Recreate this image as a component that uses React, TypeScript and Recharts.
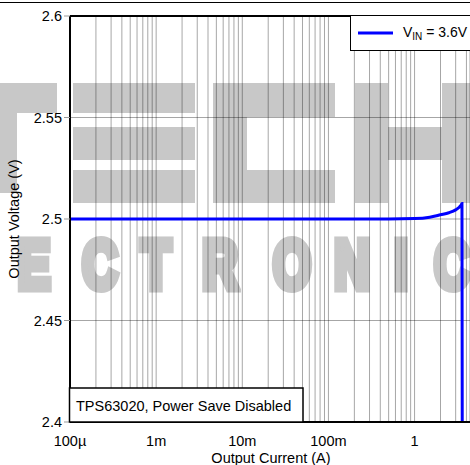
import { LineChart, Line, XAxis, YAxis, CartesianGrid, ReferenceLine, Legend } from "recharts";

// ─── Data
const currents = [0.0001, 0.001, 0.01, 0.1, 0.5, 1, 1.5, 2, 2.5, 3, 3.3, 3.45, 3.55, 3.6];
const voltages = [2.5, 2.5, 2.5, 2.5, 2.5, 2.5002, 2.5009, 2.5021, 2.5031, 2.5045, 2.5058, 2.5067, 2.5076, 2.3];

const decades = [0.0001, 0.001, 0.01, 0.1, 1];
const decadeLabels = ["100µ", "1m", "10m", "100m", "1"];
const yTicks = [2.4, 2.45, 2.5, 2.55, 2.6];
const seriesName = "VIN = 3.6V";
const noteText = "TPS63020, Power Save Disabled";

const xMin = 0.0001;
const xMax = 4.4;
const FONT = "'Liberation Sans', Arial, sans-serif";
const FS = 14.5;
const WM = "#c8c8c8";

const data = currents.map((c, i) => ({ current: c, vout: voltages[i] }));

// log grid: 1..9 of every decade
const xGridTicks = decades
  .flatMap((d) => [1, 2, 3, 4, 5, 6, 7, 8, 9].map((m) => m * d))
  .filter((v) => v <= xMax);

const fmtX = (v: number) => {
  const i = decades.findIndex((d) => Math.abs(v / d - 1) < 1e-9);
  return i >= 0 ? decadeLabels[i] : "";
};

// ─── Legend box
const LegendBox = () => (
  <div
    style={{
      boxSizing: "border-box",
      width: 120,
      height: 36,
      background: "#fff",
      border: "1.5px solid #000",
      borderRight: "none",
      display: "flex",
      alignItems: "center",
      fontFamily: FONT,
      fontSize: 14,
      color: "#000",
      whiteSpace: "nowrap",
    }}
  >
    <svg width={45} height={10} style={{ marginLeft: 7, flex: "none" }}>
      <line x1={0} y1={5} x2={35} y2={5} stroke="#0000ff" strokeWidth={3} />
    </svg>
    <span>
      V<sub style={{ fontSize: 10, verticalAlign: "-3px" }}>IN</sub> = 3.6V
    </span>
  </div>
);

const wmLetters = ["E", "C", "T", "R", "O", "N", "I", "C"];
const wmCenters = [34, 100, 156, 220, 292, 352, 401, 452];

// ─── Watermark behind the chart
const Watermark = () => (
  <div style={{ position: "absolute", left: 0, top: 0, width: 470, height: 465 }}>
    <svg width={470} height={465} style={{ position: "absolute", left: 0, top: 0 }}>
      <g fill={WM}>
        <rect x={0} y={83} width={57} height={30} />
        <rect x={0} y={113} width={17} height={80} />
        <rect x={73} y={83} width={122} height={30} />
        <rect x={73} y={127} width={122} height={33} />
        <rect x={73} y={170} width={122} height={33} />
        <rect x={213} y={83} width={122} height={34} />
        <rect x={213} y={117} width={34} height={53} />
        <rect x={213} y={170} width={122} height={33} />
        <rect x={355} y={83} width={33} height={120} />
        <rect x={388} y={127} width={54} height={33} />
        <rect x={442} y={83} width={33} height={120} />
      </g>
    </svg>
    {wmLetters.map((ch, i) => (
      <div
        key={i}
        style={{
          position: "absolute",
          left: wmCenters[i] - 50,
          top: 224,
          width: 100,
          textAlign: "center",
          fontFamily: FONT,
          fontWeight: 900,
          fontSize: 68,
          lineHeight: "80px",
          color: WM,
          WebkitTextStroke: `9px ${WM}`,
          transform: "scaleX(0.72)",
        }}
      >
        {ch}
      </div>
    ))}
  </div>
);

// ─── Texts and frame drawn over the chart
const Overlay = () => (
  <svg
    width={470}
    height={465}
    style={{ position: "absolute", left: 0, top: 0, pointerEvents: "none" }}
    fontFamily={FONT}
    fontSize={FS}
  >
    <line x1={0} y1={2.5} x2={470} y2={2.5} stroke="#000" strokeWidth={1} />
    <rect x={69.5} y={388} width={233.5} height={34} fill="#fff" stroke="#000" strokeWidth={1.5} />
    <text x={76} y={411} fill="#000">
      {noteText}
    </text>
    <text x={271} y={462.5} textAnchor="middle" fill="#000">
      Output Current (A)
    </text>
    <text transform="translate(18.5,219) rotate(-90)" textAnchor="middle" fill="#000">
      Output Voltage (V)
    </text>
  </svg>
);

export default function App() {
  return (
    <div
      style={{
        position: "absolute",
        left: 0,
        top: 0,
        width: 470,
        height: 465,
        overflow: "hidden",
        background: "#fff",
      }}
    >
      <Watermark />
      <div style={{ position: "absolute", left: 0, top: 0 }}>
        <LineChart width={470} height={465} data={data} margin={{ top: 16, right: 0, bottom: 0, left: 0 }}>
          <CartesianGrid stroke="rgba(0,0,0,0.35)" strokeWidth={1} />
          <XAxis
            dataKey="current"
            type="number"
            scale="log"
            domain={[xMin, xMax]}
            allowDataOverflow
            ticks={xGridTicks}
            interval={0}
            tickFormatter={fmtX}
            axisLine={{ stroke: "#000", strokeWidth: 2 }}
            tickLine={false}
            tickSize={0}
            tickMargin={14}
            height={43}
            tick={{ fill: "#000", fontSize: FS, fontFamily: FONT }}
          />
          <YAxis
            type="number"
            domain={[2.4, 2.6]}
            allowDataOverflow
            ticks={yTicks}
            interval={0}
            width={70}
            tickFormatter={(v: number) => String(v)}
            axisLine={{ stroke: "#000", strokeWidth: 2 }}
            tickLine={{ stroke: "#999" }}
            tickSize={6}
            tickMargin={2}
            tick={{ fill: "#000", fontSize: FS, fontFamily: FONT }}
          />
          <ReferenceLine y={2.6} stroke="#000" strokeWidth={2} />
          <Legend
            layout="vertical"
            align="center"
            verticalAlign="middle"
            content={() => <LegendBox />}
            wrapperStyle={{ position: "absolute", top: 15, left: 350, width: 120 }}
          />
          <Line
            type="monotone"
            dataKey="vout"
            name={seriesName}
            stroke="#0000ff"
            strokeWidth={3}
            dot={false}
            activeDot={false}
            isAnimationActive={false}
          />
        </LineChart>
      </div>
      <Overlay />
    </div>
  );
}
